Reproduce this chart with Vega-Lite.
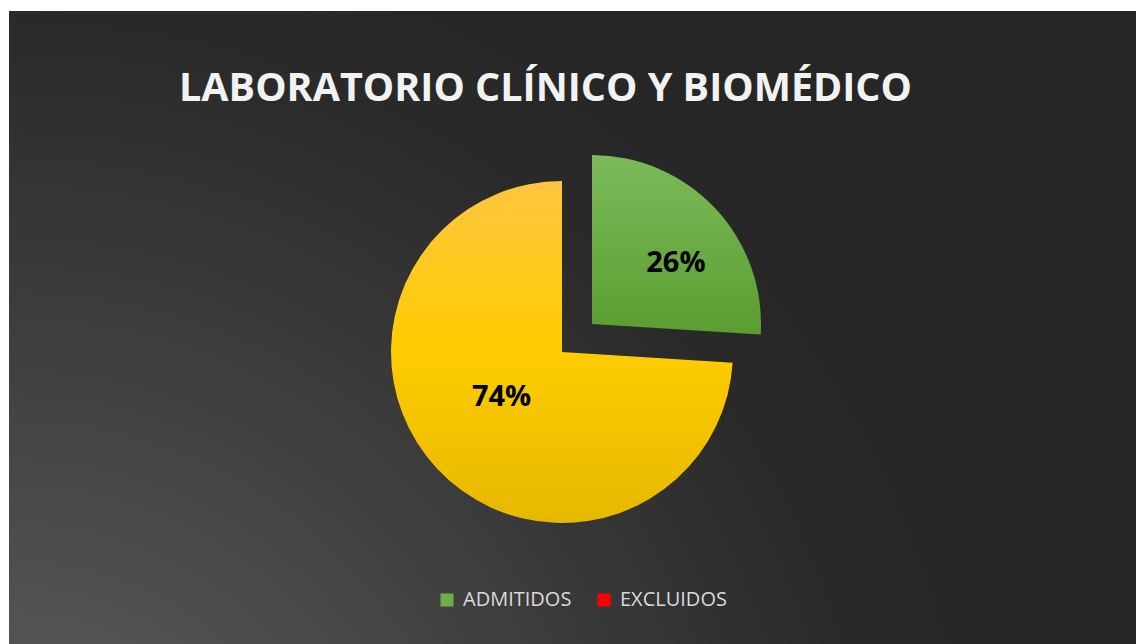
{
  "$schema": "https://vega.github.io/schema/vega-lite/v6.json",
  "width": 1136,
  "height": 644,
  "autosize": {"type": "fit", "contains": "padding"},
  "padding": {"top": 11, "left": 9, "right": 0, "bottom": 0},
  "background": "#ffffff",
  "view": {
    "stroke": null,
    "fill": {
      "gradient": "radial",
      "x1": 0, "y1": 1, "r1": 0,
      "x2": 0, "y2": 1, "r2": 0.9,
      "stops": [
        {"offset": 0, "color": "#5b5b5b"},
        {"offset": 0.25, "color": "#535353"},
        {"offset": 0.55, "color": "#3e3e3e"},
        {"offset": 0.85, "color": "#2a2a2a"},
        {"offset": 1, "color": "#262626"}
      ]
    }
  },
  "title": {
    "text": "LABORATORIO CLÍNICO Y BIOMÉDICO",
    "orient": "top",
    "anchor": "middle",
    "frame": "group",
    "baseline": "alphabetic",
    "offset": -129,
    "dx": -27,
    "font": "Open Sans",
    "fontWeight": "bold",
    "fontSize": 39.5,
    "color": "#f2f2f2"
  },
  "data": {
    "values": [
      {"cat": "ADMITIDOS", "value": 26, "label": "26%"},
      {"cat": "EXCLUIDOS", "value": 74, "label": "74%"}
    ]
  },
  "layer": [
    {
      "mark": {
        "type": "arc",
        "outerRadius": 171,
        "xOffset": -10.5,
        "yOffset": 24.5,
        "fill": {
          "gradient": "linear",
          "x1": 0, "y1": 0, "x2": 0, "y2": 1,
          "stops": [
            {"offset": 0, "color": "#ffc53f"},
            {"offset": 0.5, "color": "#ffcc00"},
            {"offset": 1, "color": "#e6b800"}
          ]
        }
      },
      "encoding": {
        "theta": {"field": "value", "type": "quantitative", "stack": true},
        "fillOpacity": {
          "condition": {"test": "datum.cat === 'EXCLUIDOS'", "value": 1},
          "value": 0
        }
      }
    },
    {
      "mark": {
        "type": "arc",
        "outerRadius": 169,
        "xOffset": 19.5,
        "yOffset": -3.5,
        "fill": {
          "gradient": "linear",
          "x1": 0, "y1": 0, "x2": 0, "y2": 1,
          "stops": [
            {"offset": 0, "color": "#7cba5a"},
            {"offset": 1, "color": "#5b9d30"}
          ]
        }
      },
      "encoding": {
        "theta": {"field": "value", "type": "quantitative", "stack": true},
        "fillOpacity": {
          "condition": {"test": "datum.cat === 'ADMITIDOS'", "value": 1},
          "value": 0
        }
      }
    },
    {
      "mark": {
        "type": "text",
        "radius": 100,
        "xOffset": 19.5,
        "yOffset": -3.5,
        "dx": 11,
        "dy": 7,
        "font": "Open Sans",
        "fontWeight": "bold",
        "fontSize": 29,
        "color": "#000000"
      },
      "encoding": {
        "theta": {"field": "value", "type": "quantitative", "stack": true},
        "text": {"field": "label"},
        "opacity": {
          "condition": {"test": "datum.cat === 'ADMITIDOS'", "value": 1},
          "value": 0
        }
      }
    },
    {
      "mark": {
        "type": "text",
        "radius": 76,
        "xOffset": -10.5,
        "yOffset": 24.5,
        "dx": -5,
        "dy": -7,
        "font": "Open Sans",
        "fontWeight": "bold",
        "fontSize": 29,
        "color": "#000000"
      },
      "encoding": {
        "theta": {"field": "value", "type": "quantitative", "stack": true},
        "text": {"field": "label"},
        "opacity": {
          "condition": {"test": "datum.cat === 'EXCLUIDOS'", "value": 1},
          "value": 0
        }
      }
    },
    {
      "mark": {"type": "arc", "outerRadius": 0, "innerRadius": 0},
      "encoding": {
        "color": {
          "field": "cat",
          "type": "nominal",
          "scale": {"domain": ["ADMITIDOS", "EXCLUIDOS"], "range": ["#70ad47", "#ff0000"]},
          "legend": {
            "title": null,
            "orient": "none",
            "direction": "horizontal",
            "legendX": 428,
            "legendY": 579,
            "symbolType": "square",
            "symbolSize": 169,
            "symbolStrokeWidth": 0,
            "symbolOpacity": 1,
            "labelFont": "Open Sans",
            "labelFontSize": 20,
            "labelColor": "#d9d9d9",
            "labelOffset": 6,
            "columnPadding": 22
          }
        }
      }
    }
  ]
}
